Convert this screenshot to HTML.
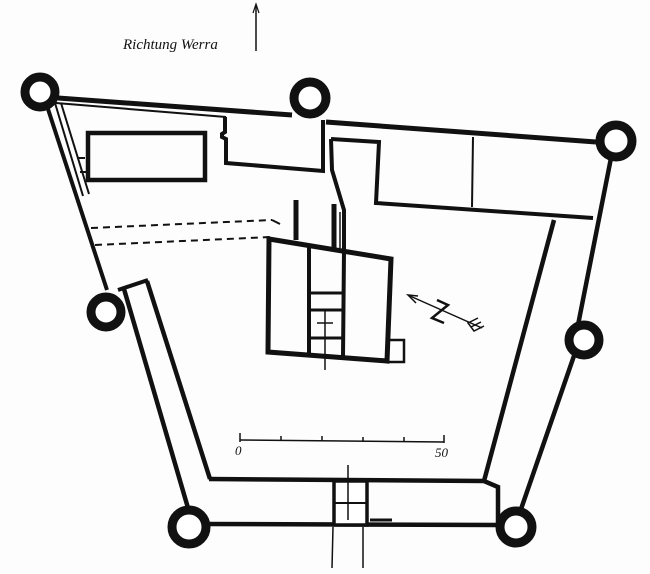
<!DOCTYPE html>
<html><head><meta charset="utf-8"><style>
html,body{margin:0;padding:0;background:#fff;}
svg{display:block;}
</style></head><body>
<svg width="650" height="574" viewBox="0 0 650 574" xmlns="http://www.w3.org/2000/svg">
<rect width="650" height="574" fill="#fdfdfd"/>
<g fill="none" stroke="#111" stroke-linejoin="miter">
<polyline points="58,98 292,115" stroke-width="5"/>
<polyline points="326,122 596,142" stroke-width="5"/>
<line x1="47" y1="106" x2="107" y2="290" stroke-width="4"/>
<line x1="55" y1="103" x2="83" y2="196" stroke-width="2"/>
<line x1="61" y1="103" x2="89" y2="194" stroke-width="2"/>
<line x1="56" y1="103" x2="226" y2="117" stroke-width="2"/>
<line x1="77" y1="158" x2="85" y2="158" stroke-width="2"/>
<line x1="80" y1="172" x2="87" y2="172" stroke-width="2"/>
<rect x="88" y="133" width="117" height="47" stroke-width="4.5"/>
<polyline points="225,117 225,132 222,134 222,137 226,139 226,163 323,171 323,120" stroke-width="4"/>
<polyline points="331,139 379,142 376,203 593,218" stroke-width="4"/>
<line x1="473" y1="137" x2="472" y2="207" stroke-width="2"/>
<polyline points="331,139 332,170 344,210 344,250" stroke-width="4"/>
<line x1="340" y1="212" x2="340" y2="249" stroke-width="1.5"/>
<polyline points="611,158 578,325" stroke-width="4.5"/>
<polyline points="576,350 520,512" stroke-width="4.5"/>
<line x1="554" y1="220" x2="484" y2="481" stroke-width="4.5"/>
<line x1="124" y1="289" x2="188" y2="508" stroke-width="4.5"/>
<line x1="147" y1="281" x2="210" y2="479" stroke-width="4.5"/>
<line x1="118" y1="290" x2="148" y2="280" stroke-width="4"/>
<polyline points="209,479 484,481 498,487 498,525" stroke-width="4.5"/>
<line x1="207" y1="524" x2="498" y2="525" stroke-width="4.5"/>
<line x1="370" y1="520" x2="392" y2="520" stroke-width="3"/>
<rect x="334" y="481" width="33" height="44" stroke-width="3.5" fill="#fff"/>
<line x1="334" y1="503" x2="367" y2="503" stroke-width="2"/>
<line x1="348" y1="465" x2="348" y2="520" stroke-width="1.5"/>
<line x1="333" y1="527" x2="332" y2="568" stroke-width="1.5"/>
<line x1="363" y1="527" x2="363" y2="568" stroke-width="1.5"/>
<polygon points="269,239 391,259 387,361 268,352" stroke-width="5"/>
<line x1="309" y1="246" x2="309" y2="355" stroke-width="4"/>
<line x1="344" y1="251" x2="343" y2="357" stroke-width="4"/>
<line x1="309" y1="293" x2="344" y2="293" stroke-width="3"/>
<line x1="309" y1="310" x2="344" y2="310" stroke-width="3"/>
<line x1="309" y1="338" x2="344" y2="338" stroke-width="3"/>
<line x1="325" y1="310" x2="325" y2="370" stroke-width="1.5"/>
<line x1="317" y1="323" x2="333" y2="323" stroke-width="1.5"/>
<rect x="387" y="340" width="17" height="22" stroke-width="2.5"/>
<line x1="296" y1="200" x2="296" y2="240" stroke-width="5"/>
<line x1="334" y1="204" x2="334" y2="249" stroke-width="5"/>
<line x1="91" y1="228" x2="272" y2="220" stroke-width="2" stroke-dasharray="7,5"/>
<line x1="95" y1="245" x2="271" y2="237" stroke-width="2" stroke-dasharray="7,5"/>
<polyline points="272,220 280,224" stroke-width="2"/>
<line x1="410" y1="296" x2="482" y2="328" stroke-width="1.5"/>
<polyline points="418,296 408,295 416,303" stroke-width="1.5"/>
<polyline points="437,300 448,305 432,318 444,323" stroke-width="2.5"/>
<polyline points="478,318 468,323 474,331 484,326" stroke-width="1.5"/>
<line x1="471" y1="327" x2="481" y2="322" stroke-width="1.5"/>
<line x1="240" y1="440" x2="444" y2="442" stroke-width="1.5"/>
<line x1="240" y1="433" x2="240" y2="442" stroke-width="1.5"/>
<line x1="281" y1="436" x2="281" y2="441" stroke-width="1.5"/>
<line x1="322" y1="436" x2="322" y2="441" stroke-width="1.5"/>
<line x1="363" y1="437" x2="363" y2="442" stroke-width="1.5"/>
<line x1="404" y1="437" x2="404" y2="442" stroke-width="1.5"/>
<line x1="444" y1="435" x2="444" y2="443" stroke-width="1.5"/>
<line x1="256" y1="6" x2="256" y2="51" stroke-width="1.5"/>
<polyline points="253,13 256,4 259,13" stroke-width="1.2"/>
<g stroke-width="9" fill="#fff">
<circle cx="40" cy="92" r="15"/>
<circle cx="310" cy="98" r="16"/>
<circle cx="616" cy="141" r="16"/>
<circle cx="106" cy="312" r="15"/>
<circle cx="584" cy="340" r="15"/>
<circle cx="189" cy="527" r="17"/>
<circle cx="516" cy="527" r="16"/>
</g>
</g>
<text x="123" y="49" font-family="Liberation Serif, serif" font-style="italic" font-size="15" fill="#111">Richtung Werra</text>
<text x="235" y="455" font-family="Liberation Serif, serif" font-style="italic" font-size="13" fill="#111">0</text>
<text x="435" y="457" font-family="Liberation Serif, serif" font-style="italic" font-size="13" fill="#111">50</text>
</svg>
</body></html>
